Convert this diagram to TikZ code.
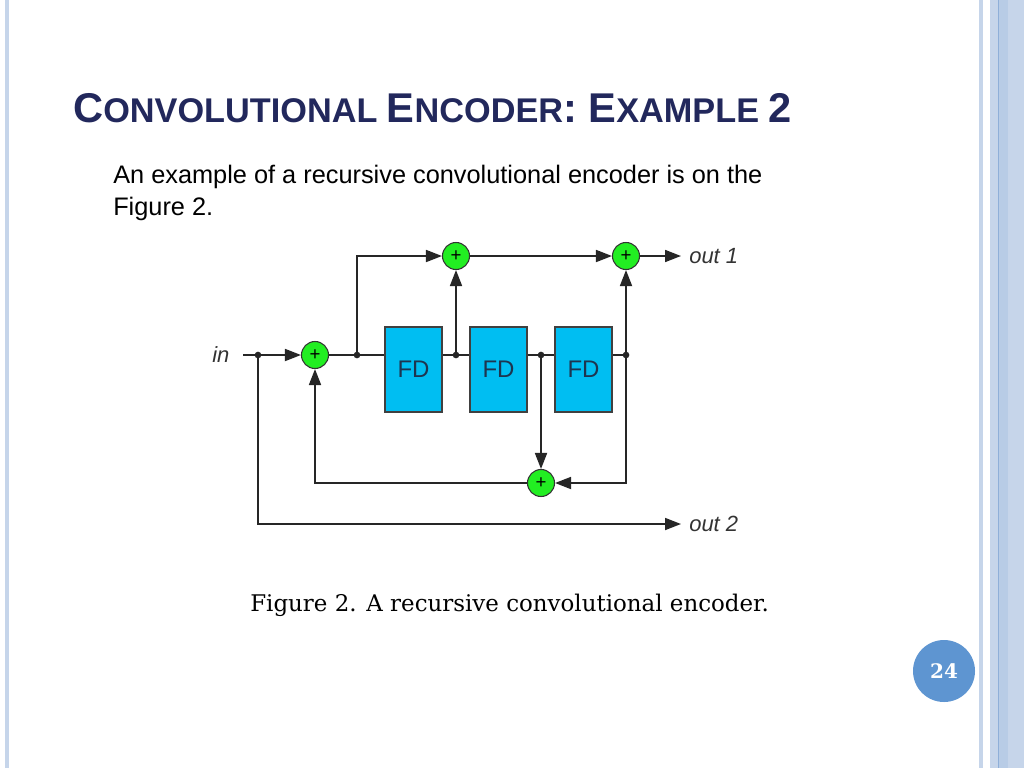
\documentclass[tikz,border=0pt]{standalone}
\usepackage{fontspec}
\setmainfont{Liberation Sans}
\newfontfamily\capfont{DejaVu Serif}
\usetikzlibrary{arrows.meta}
\definecolor{titlecol}{HTML}{22285C}
\definecolor{bordercol}{HTML}{C6D5EA}
\definecolor{borderdark}{HTML}{8FAFD8}
\definecolor{bordermid}{HTML}{B8CCE6}
\definecolor{fdfill}{HTML}{00BEF2}
\definecolor{fdtext}{HTML}{1E3550}
\definecolor{addfill}{HTML}{22EE22}
\definecolor{circcol}{HTML}{5E95D1}
\definecolor{lblcol}{HTML}{333333}
\newcommand\tbig[1]{{\fontsize{31.2}{31.2}\selectfont #1}}
\newcommand\tsml[1]{{\fontsize{25.7}{25.7}\selectfont #1}}
\begin{document}
\begin{tikzpicture}[x=0.75pt,y=-0.75pt,
  adder/.style={circle, draw=black!80, fill=addfill, minimum size=20.25pt, inner sep=0pt, line width=0.8pt, font=\fontsize{14}{14}\selectfont},
  fdbox/.style={rectangle, draw=black!75, fill=fdfill, minimum width=42.75pt, minimum height=63.75pt, inner sep=0pt, line width=0.8pt, font=\fontsize{18}{18}\selectfont, text=fdtext},
  wire/.style={line width=1.3pt, draw=black!85},
  arr/.style={wire, -{Triangle[length=12pt, width=9pt]}},
  lbl/.style={anchor=base west, inner sep=0pt, text=lblcol, font=\itshape\fontsize{16.5}{16.5}\selectfont},
  jdot/.style={fill=black!85}
]
\useasboundingbox (0,0) rectangle (1024,768);
\fill[white] (0,0) rectangle (1024,768);
% borders
\fill[bordercol] (5,0) rectangle (9,768);
\fill[bordercol] (979,0) rectangle (983,768);
\fill[bordercol] (990,0) rectangle (1024,768);
\fill[bordermid] (999,0) rectangle (1008,768);
\fill[borderdark] (997.5,0) rectangle (999,768);
% title
\node[anchor=base west, inner sep=0pt, text=titlecol, font=\bfseries] (title) at (73,122)
  {\tbig{C}\tsml{ONVOLUTIONAL }\tbig{E}\tsml{NCODER}\tbig{: E}\tsml{XAMPLE }\tbig{2}};
% body
\node[anchor=base west, inner sep=0pt, font=\fontsize{19}{19}\selectfont] (body1) at (113,183) {An example of a recursive convolutional encoder is on the};
\node[anchor=base west, inner sep=0pt, font=\fontsize{19}{19}\selectfont] (body2) at (113,215) {Figure 2.};
% diagram
\node[adder] (a1) at (315,355) {+};
\node[adder] (aA) at (456,256) {+};
\node[adder] (aB) at (626,256) {+};
\node[adder] (aC) at (541,483) {+};
\node[fdbox] (f1) at (413.5,369.5) {FD};
\node[fdbox] (f2) at (498.5,369.5) {FD};
\node[fdbox] (f3) at (583.5,369.5) {FD};
\coordinate (inS) at (243,355);
\coordinate (d0) at (258,355);
\coordinate (d1) at (357,355);
\coordinate (d2) at (456,355);
\coordinate (d3) at (541,355);
\coordinate (d4) at (626,355);
\coordinate (o1) at (681,256);
\coordinate (o2) at (681,524);
\draw[arr] (inS) -- (a1.west);
\draw[wire] (a1.east) -- (d1 -| f1.west);
\draw[arr] (d1) |- (aA.west);
\draw[wire] (d2 -| f1.east) -- (d2 -| f2.west);
\draw[arr] (d2) -- (aA.south);
\draw[wire] (d3 -| f2.east) -- (d3 -| f3.west);
\draw[arr] (d3) -- (aC.north);
\draw[wire] (d4 -| f3.east) -- (d4);
\draw[arr] (d4) -- (aB.south);
\draw[arr] (d4) |- (aC.east);
\draw[arr] (aA.east) -- (aB.west);
\draw[arr] (aB.east) -- (o1);
\draw[arr] (aC.west) -| (a1.south);
\draw[arr] (d0) |- (o2);
\foreach \d in {d0,d1,d2,d3,d4} \fill[jdot] (\d) circle (2.5pt);
\node[lbl] (lin) at (212,362) {in};
\node[lbl] (lo1) at (689,263) {out 1};
\node[lbl] (lo2) at (689,531) {out 2};
% caption
\node[anchor=base west, inner sep=0pt, font=\capfont\fontsize{17.2}{17.2}\selectfont] (cap) at (250,611) {Figure 2. A recursive convolutional encoder.};
% page number
\node[circle, fill=circcol, minimum size=46.5pt, inner sep=0pt, text=white, font=\capfont\bfseries\fontsize{15}{15}\selectfont] (pg) at (944,671) {24};
\end{tikzpicture}
\end{document}
